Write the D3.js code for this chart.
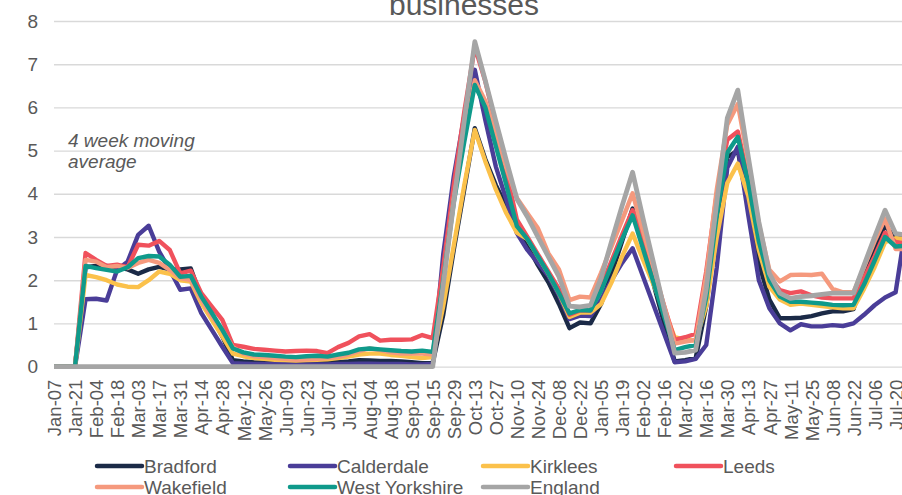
<!DOCTYPE html>
<html>
<head>
<meta charset="utf-8">
<script src="https://cdn.jsdelivr.net/npm/d3@7"></script>
<style>
  body { margin: 0; background: #fff; }
  svg { display: block; font-family: "Liberation Sans", Arial, sans-serif; }
</style>
</head>
<body>
<script>
// week labels (every second week is labelled)
var tickLabels = ["Jan-07","Jan-21","Feb-04","Feb-18","Mar-03","Mar-17","Mar-31","Apr-14","Apr-28","May-12",
  "May-26","Jun-09","Jun-23","Jul-07","Jul-21","Aug-04","Aug-18","Sep-01","Sep-15","Sep-29","Oct-13","Oct-27",
  "Nov-10","Nov-24","Dec-08","Dec-22","Jan-05","Jan-19","Feb-02","Feb-16","Mar-02","Mar-16","Mar-30","Apr-13",
  "Apr-27","May-11","May-25","Jun-08","Jun-22","Jul-06","Jul-20"];

var bradford = [0,0,0,
  2.3,2.33,2.33,2.3,2.25,2.15,2.25,2.31,2.25,2.25,2.27,1.6,1.15,0.7,0.15,
  0.12,0.1,0.09,0.09,0.08,0.08,0.09,0.1,0.1,0.1,0.12,0.15,0.14,0.13,0.13,0.12,0.1,0.08,0.08,
  1.2,2.7,4.1,5.52,4.8,4.2,3.7,3.15,2.8,2.35,1.95,1.45,0.89,1.02,1.0,1.45,2.15,2.9,3.66,2.78,1.9,1.0,
  0.12,0.15,0.2,1.4,3.3,4.85,5.0,3.7,2.4,1.55,1.12,1.12,1.13,1.17,1.23,1.28,1.28,1.33,2.1,2.7,3.27,2.95,3.0];
var calderdale = [0,0,0,
  1.56,1.57,1.53,2.24,2.43,3.05,3.26,2.66,2.24,1.78,1.81,1.24,0.85,0.46,0.08,
  0.07,0.06,0.06,0.06,0.06,0.05,0.05,0.05,0.05,0.06,0.06,0.07,0.07,0.06,0.06,0.06,0.05,0.05,0.06,
  2.6,4.4,5.8,6.87,5.71,4.63,3.86,3.09,2.7,2.4,2.1,1.65,1.1,1.18,1.17,1.55,2.0,2.4,2.74,2.08,1.42,0.76,
  0.1,0.12,0.18,0.5,2.3,4.6,5.09,3.5,2.0,1.35,1.0,0.84,0.98,0.93,0.93,0.96,0.94,1.0,1.2,1.42,1.6,1.72,3.3];
var kirklees = [0,0,0,
  2.12,2.07,2.0,1.9,1.85,1.84,2.0,2.2,2.15,2.0,1.97,1.47,1.08,0.7,0.3,
  0.24,0.2,0.18,0.16,0.15,0.14,0.15,0.16,0.17,0.2,0.23,0.28,0.3,0.3,0.27,0.25,0.22,0.2,0.22,
  1.4,2.8,4.2,5.48,4.75,4.1,3.55,3.1,2.95,2.55,2.15,1.7,1.15,1.25,1.25,1.45,1.95,2.55,3.08,2.47,1.89,1.3,
  0.68,0.62,0.6,1.4,3.0,4.25,4.7,3.95,2.7,1.85,1.55,1.43,1.46,1.43,1.4,1.37,1.35,1.35,1.8,2.3,2.88,2.97,2.95];
var leeds = [0,0,0,
  2.63,2.47,2.33,2.36,2.3,2.82,2.8,2.91,2.7,2.16,2.22,1.7,1.39,1.08,0.5,
  0.46,0.41,0.39,0.37,0.35,0.36,0.37,0.36,0.31,0.45,0.55,0.7,0.75,0.6,0.62,0.62,0.63,0.73,0.66,
  2.3,4.2,5.9,7.4,6.6,5.6,4.5,3.4,3.0,2.6,2.2,1.8,1.2,1.3,1.3,1.85,2.45,3.05,3.62,3.0,2.2,1.4,
  0.62,0.68,0.76,2.2,4.0,5.25,5.44,4.35,3.0,2.08,1.77,1.7,1.74,1.65,1.6,1.58,1.58,1.58,2.05,2.55,3.1,2.88,2.85];
var wakefield = [0,0,0,
  2.47,2.43,2.3,2.33,2.28,2.4,2.47,2.4,2.24,2.05,2.0,1.54,1.16,0.85,0.45,
  0.3,0.24,0.22,0.2,0.18,0.16,0.17,0.18,0.2,0.22,0.28,0.36,0.42,0.38,0.33,0.3,0.3,0.3,0.28,
  2.0,3.9,5.3,6.63,6.15,5.4,4.6,3.9,3.55,3.2,2.62,2.25,1.54,1.62,1.6,2.17,2.78,3.39,4.01,3.13,2.28,1.4,
  0.53,0.58,0.62,2.1,4.1,5.6,6.08,4.75,3.3,2.24,1.97,2.12,2.13,2.12,2.15,1.8,1.72,1.72,2.3,2.9,3.42,2.72,2.72];
var westYorkshire = [0,0,0,
  2.33,2.28,2.24,2.2,2.3,2.51,2.56,2.55,2.36,2.08,2.1,1.62,1.24,0.85,0.42,
  0.33,0.28,0.27,0.25,0.23,0.22,0.24,0.25,0.23,0.28,0.32,0.4,0.42,0.4,0.38,0.36,0.35,0.37,0.34,
  2.0,3.8,5.2,6.52,6.0,5.1,4.2,3.25,2.95,2.55,2.15,1.7,1.23,1.31,1.3,1.75,2.35,2.95,3.5,2.72,1.94,1.16,
  0.38,0.45,0.5,1.6,3.5,4.95,5.32,4.25,2.9,2.0,1.62,1.5,1.5,1.48,1.46,1.43,1.42,1.43,1.9,2.45,3.0,2.78,2.8];
var england = [0,0,0,
  0,0,0,0,0,0,0,0,0,0,0,0,0,0,0,
  0,0,0,0,0,0,0,0,0,0,0,0,0,0,0,0,0,0,0,
  1.9,3.8,5.7,7.52,6.62,5.68,4.77,3.88,3.47,3.0,2.54,2.08,1.4,1.38,1.42,2.05,2.9,3.72,4.5,3.42,2.39,1.34,
  0.31,0.33,0.38,1.8,3.8,5.75,6.4,4.85,3.35,2.16,1.7,1.58,1.62,1.64,1.67,1.7,1.7,1.7,2.35,3.0,3.62,3.08,3.05];

var series = [
  {name: "Bradford", values: bradford, color: "#1b2a47"},
  {name: "Calderdale", values: calderdale, color: "#4a3d98"},
  {name: "Kirklees", values: kirklees, color: "#fbc14b"},
  {name: "Leeds", values: leeds, color: "#f0515c"},
  {name: "Wakefield", values: wakefield, color: "#f5997d"},
  {name: "West Yorkshire", values: westYorkshire, color: "#0f9a8b"},
  {name: "England", values: england, color: "#a5a5a5"}
];

var width = 902, height = 495;
var plotLeft = 54, plotBottom = 366.6, plotTop = 21;
var step = 10.52;

var svg = d3.select("body").append("svg")
  .attr("width", width)
  .attr("height", height);

var x = d3.scaleLinear().domain([0, bradford.length - 1]).range([plotLeft, plotLeft + step * (bradford.length - 1)]);
var y = d3.scaleLinear().domain([0, 8]).range([plotBottom, plotTop]);

// title (cut off at the top of the picture)
svg.append("text")
  .attr("x", 464)
  .attr("y", 15)
  .attr("text-anchor", "middle")
  .attr("font-size", 30)
  .attr("fill", "#595959")
  .text("businesses");

// grid
var grid = svg.append("g")
  .attr("transform", "translate(" + plotLeft + ",0)")
  .call(d3.axisLeft(y).tickValues(d3.range(0, 9)).tickSize(-(width - plotLeft)).tickFormat(""));
grid.select(".domain").remove();
grid.selectAll("line").attr("stroke", "#d9d9d9").attr("stroke-width", 1.4);

// y labels
var yAxisG = svg.append("g")
  .attr("transform", "translate(" + plotLeft + ",0)")
  .call(d3.axisLeft(y).tickValues(d3.range(0, 9)).tickSize(0).tickPadding(16));
yAxisG.select(".domain").remove();
yAxisG.selectAll("text")
  .attr("font-size", 19)
  .attr("font-family", "Liberation Sans, Arial, sans-serif")
  .attr("fill", "#595959");

// x labels
var xAxisG = svg.append("g")
  .attr("transform", "translate(0," + plotBottom + ")")
  .call(d3.axisBottom(x)
    .tickValues(d3.range(0, tickLabels.length * 2, 2))
    .tickSize(0)
    .tickFormat(function (d) { return tickLabels[d / 2]; }));
xAxisG.select(".domain").remove();
xAxisG.selectAll("text")
  .attr("font-size", 18.5)
  .attr("font-family", "Liberation Sans, Arial, sans-serif")
  .attr("fill", "#595959")
  .attr("text-anchor", "end")
  .attr("transform", "rotate(-90)")
  .attr("x", -13)
  .attr("y", 0)
  .attr("dy", "0.36em");

// note
var note = svg.append("text")
  .attr("font-size", 19)
  .attr("font-style", "italic")
  .attr("fill", "#595959");
note.append("tspan").attr("x", 68).attr("y", 147).text("4 week moving");
note.append("tspan").attr("x", 68).attr("y", 168).text("average");

// lines
var line = d3.line()
  .x(function (d, i) { return x(i); })
  .y(function (d) { return y(d); });

svg.append("g").selectAll("path")
  .data(series).enter()
  .append("path")
  .attr("d", function (d) { return line(d.values); })
  .attr("fill", "none")
  .attr("stroke", function (d) { return d.color; })
  .attr("stroke-width", function (d) { return d.name == "England" ? 4.8 : 4.4; })
  .attr("stroke-linejoin", "round");

// legend
var legend = svg.append("g").selectAll("g")
  .data(series).enter()
  .append("g")
  .attr("transform", function (d, i) {
    return "translate(" + (97 + (i % 4) * 193) + "," + (466 + Math.floor(i / 4) * 21) + ")";
  });
legend.append("line")
  .attr("x1", 0).attr("x2", 45)
  .attr("stroke", function (d) { return d.color; })
  .attr("stroke-width", 4.5)
  .attr("stroke-linecap", "round");
legend.append("text")
  .attr("x", 47)
  .attr("dy", "0.36em")
  .attr("font-size", 19)
  .attr("fill", "#595959")
  .text(function (d) { return d.name; });
</script>
</body>
</html>
